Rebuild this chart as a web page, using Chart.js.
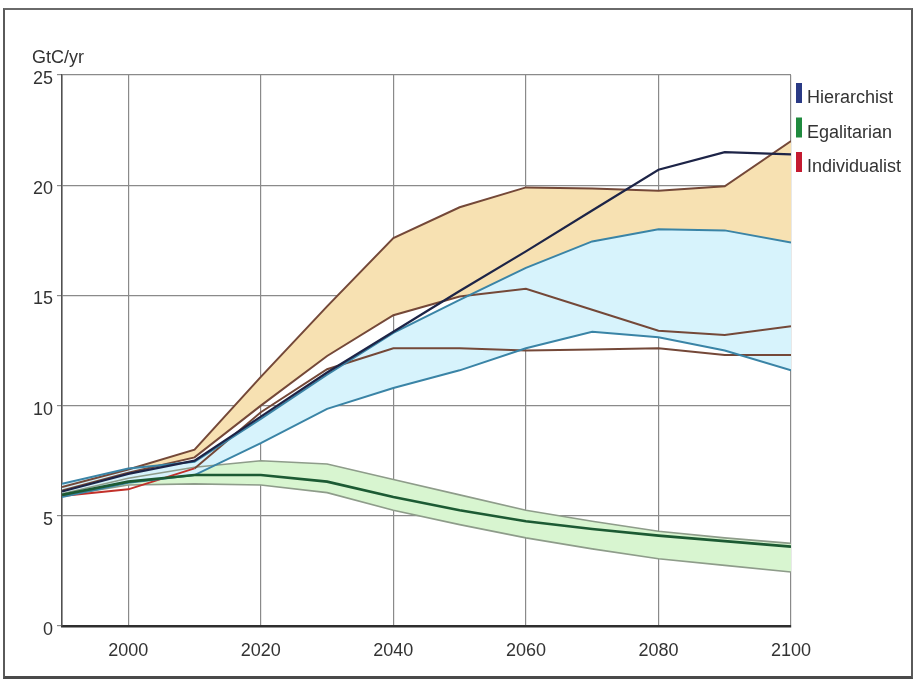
<!DOCTYPE html>
<html>
<head>
<meta charset="utf-8">
<script src="https://cdn.jsdelivr.net/npm/chart.js@4.4.1/dist/chart.umd.min.js"></script>
<style>
  html, body { margin: 0; padding: 0; background: #ffffff; }
  #wrap { position: relative; width: 914px; height: 681px; }
  #frame {
    position: absolute; left: 3px; top: 8px; width: 906px; height: 666px;
    border-left: 2px solid #5a5a5a; border-right: 2px solid #5a5a5a;
    border-top: 2px solid #6a6a6a; border-bottom: 3px solid #4a4a4a;
    pointer-events: none;
  }
</style>
</head>
<body>
<div id="wrap">
  <canvas id="c" width="914" height="681"></canvas>
  <div id="frame"></div>
</div>
<script>
// CO2 emissions, GtC/yr, per decade
const years = [1990, 2000, 2010, 2020, 2030, 2040, 2050, 2060, 2070, 2080, 2090, 2100];

const hierarchistCentral = [6.1, 6.9, 7.5, 9.5, 11.5, 13.35, 15.2, 17.0, 18.85, 20.7, 21.5, 21.4];
const hierarchistHigh    = [6.45, 7.15, 7.45, 9.4, 11.4, 13.3, 14.8, 16.25, 17.45, 18.0, 17.95, 17.4];
const hierarchistLow     = [5.85, 6.5, 6.85, 8.3, 9.85, 10.8, 11.6, 12.6, 13.35, 13.1, 12.5, 11.6];

const individualistHigh  = [6.3, 7.1, 8.0, 11.3, 14.5, 17.6, 19.0, 19.9, 19.85, 19.75, 19.95, 22.0];
const individualistMid   = [6.15, 6.95, 7.65, 10.0, 12.25, 14.1, 14.95, 15.3, 14.35, 13.4, 13.2, 13.6];
const individualistLow   = [5.9, 6.2, 7.15, 9.7, 11.65, 12.6, 12.6, 12.5, 12.55, 12.6, 12.3, 12.3];

const egalitarianHigh    = [6.0, 6.7, 7.2, 7.5, 7.35, 6.65, 5.95, 5.25, 4.75, 4.3, 4.0, 3.75];
const egalitarianMid     = [5.95, 6.55, 6.85, 6.85, 6.55, 5.85, 5.25, 4.75, 4.4, 4.1, 3.85, 3.6];
const egalitarianLow     = [5.9, 6.4, 6.45, 6.4, 6.05, 5.25, 4.6, 4.0, 3.5, 3.05, 2.75, 2.45];

const xTicks = [2000, 2020, 2040, 2060, 2080, 2100];
const yTicks = [0, 5, 10, 15, 20, 25];
const unitLabel = 'GtC/yr';
const legendLabels = ['Hierarchist', 'Egalitarian', 'Individualist'];

const FONT = '"Liberation Sans", Arial, Helvetica, sans-serif';
const pts = arr => years.map((x, i) => ({ x: x, y: arr[i] }));

const BROWN = '#744838';
const TEAL = '#3a84a6';
const NAVY = '#1d2447';
const DKGREEN = '#1c5a33';
const GREENEDGE = '#8e9c8a';
const RED = '#c2302a';

function line(data, color, width, extra) {
  return Object.assign({
    data: pts(data), borderColor: color, borderWidth: width,
    pointRadius: 0, tension: 0, fill: false
  }, extra || {});
}

const datasets = [
  line(hierarchistCentral, NAVY, 2.2),                                        // 0
  line(egalitarianMid, DKGREEN, 2.6),                                         // 1
  line(hierarchistHigh, TEAL, 2, { fill: 3, backgroundColor: '#d7f3fc' }),    // 2
  line(hierarchistLow, TEAL, 2),                                              // 3
  line(individualistHigh, BROWN, 2, { fill: 5, backgroundColor: '#f7e1b2' }), // 4
  line(individualistMid, BROWN, 2),                                           // 5
  line(individualistLow, BROWN, 2, {
    segment: { borderColor: ctx => ctx.p1DataIndex <= 2 ? RED : BROWN }
  }),                                                                         // 6
  line(egalitarianHigh, GREENEDGE, 1.6, { fill: 8, backgroundColor: '#d8f5d0' }), // 7
  line(egalitarianLow, GREENEDGE, 1.6)                                        // 8
];

// unit label and the colour-bar legend on the right
const annotations = {
  id: 'annotations',
  afterDraw(chart) {
    const ctx = chart.ctx, a = chart.chartArea;
    const barColors = ['#2a3a85', '#1f8a3e', '#c41a30'];
    ctx.save();
    ctx.fillStyle = '#333333';
    ctx.font = '18px ' + FONT;
    ctx.textBaseline = 'alphabetic';
    ctx.textAlign = 'left';
    ctx.fillText(unitLabel, 32, a.top - 12);
    legendLabels.forEach((t, i) => {
      const base = a.top + 28 + i * 34.5;
      ctx.fillStyle = barColors[i];
      ctx.fillRect(a.right + 5, base - 20, 6, 20);
      ctx.fillStyle = '#333333';
      ctx.fillText(t, a.right + 16, base);
    });
    ctx.restore();
  }
};

new Chart(document.getElementById('c'), {
  type: 'line',
  data: { datasets: datasets },
  plugins: [annotations],
  options: {
    responsive: false,
    animation: false,
    events: [],
    layout: { padding: { left: 0, top: 75, right: 123, bottom: 15 } },
    plugins: {
      legend: { display: false },
      tooltip: { enabled: false },
      filler: { drawTime: 'beforeDatasetsDraw' }
    },
    scales: {
      x: {
        type: 'linear', min: 1990, max: 2100,
        afterBuildTicks: s => { s.ticks = xTicks.map(v => ({ value: v })); },
        afterFit: s => { s.height = 40; },
        grid: { color: '#8a8a8a', lineWidth: 1.2, drawTicks: false },
        border: { display: true, color: '#2e2e2e', width: 2.5 },
        ticks: {
          padding: 14, color: '#333333', maxRotation: 0, autoSkip: false,
          font: { family: FONT, size: 18 },
          callback: v => String(v)
        }
      },
      y: {
        type: 'linear', min: 0, max: 25,
        afterBuildTicks: s => { s.ticks = yTicks.map(v => ({ value: v })); },
        afterFit: s => { s.width = 62; },
        grid: { color: '#8a8a8a', lineWidth: 1.2, tickLength: 5 },
        border: { display: true, color: '#505050', width: 1.6 },
        ticks: {
          padding: 4, color: '#333333', labelOffset: 4,
          font: { family: FONT, size: 18 },
          callback: v => String(v)
        }
      }
    }
  }
});
</script>
</body>
</html>
